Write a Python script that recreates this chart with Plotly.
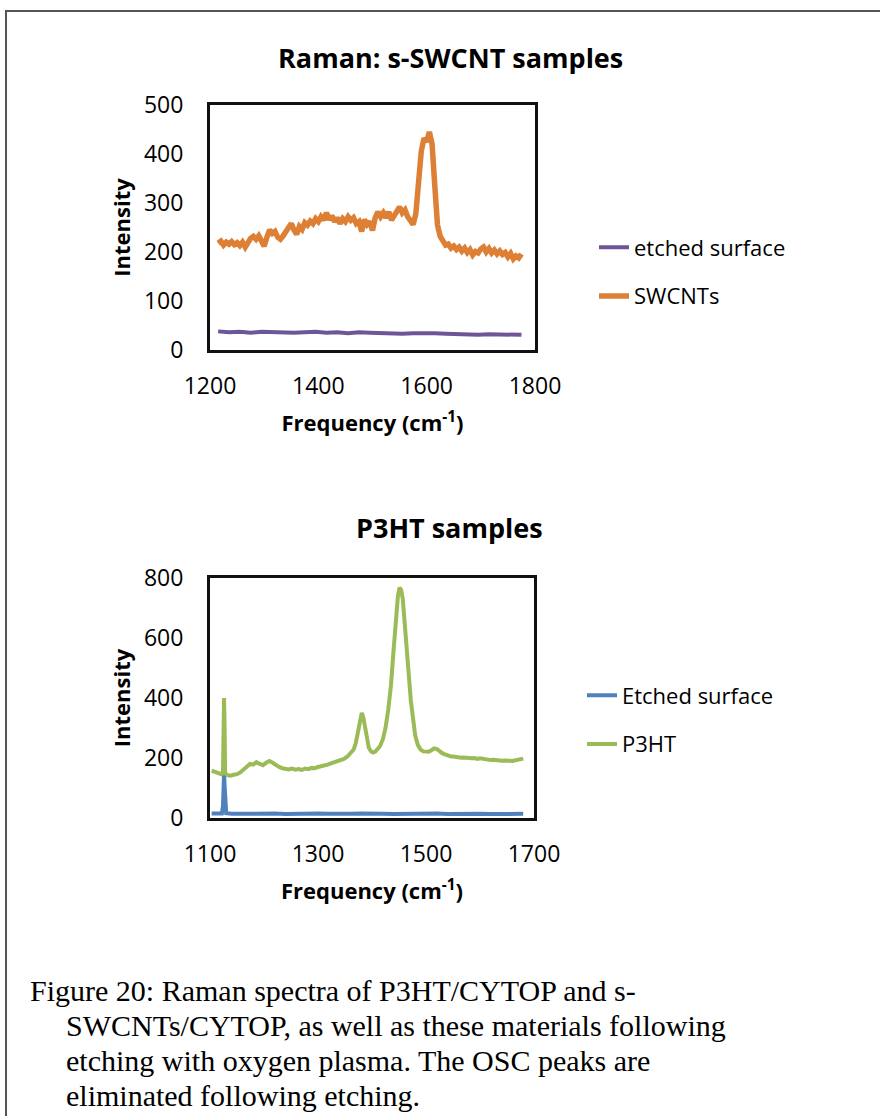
import plotly.graph_objects as go

# ---------------- data: top chart (s-SWCNT) ----------------
swcnt_freq = [1215, 1220, 1225, 1230, 1235, 1240, 1245, 1250, 1255, 1260, 1265, 1270, 1275, 1280, 1285,
              1290, 1295, 1300, 1305, 1310, 1315, 1320, 1325, 1330, 1335, 1340, 1345, 1350, 1355, 1360,
              1365, 1370, 1375, 1380, 1385, 1390, 1395, 1400, 1405, 1410, 1415, 1420, 1425, 1430, 1435,
              1440, 1445, 1450, 1455, 1460, 1465, 1470, 1475, 1480, 1485, 1490, 1495, 1500, 1505, 1510,
              1515, 1520, 1525, 1530, 1535, 1540, 1545, 1550, 1555, 1560, 1565, 1570, 1575, 1580, 1585,
              1590, 1595, 1600, 1605, 1610, 1615, 1620, 1625, 1630, 1635, 1640, 1645, 1650, 1655, 1660,
              1665, 1670, 1675, 1680, 1685, 1690, 1695, 1700, 1705, 1710, 1715, 1720, 1725, 1730, 1735,
              1740, 1745, 1750, 1755, 1760, 1765, 1770, 1775]
swcnt_int = [218, 222, 214, 220, 216, 221, 215, 219, 213, 220, 210, 222, 228, 232, 226,
             233, 222, 212, 230, 245, 238, 242, 230, 226, 233, 240, 251, 258, 245, 236,
             252, 246, 260, 255, 263, 258, 268, 262, 272, 265, 280, 266, 274, 262, 270,
             258, 268, 262, 272, 265, 270, 258, 262, 242, 266, 256, 262, 244, 270, 282,
             272, 280, 270, 282, 265, 276, 285, 292, 280, 286, 272, 266, 256, 278, 335,
             405, 432, 425, 445, 420, 335, 255, 232, 222, 214, 216, 208, 212, 205, 210,
             202, 208, 199, 205, 194, 201, 198, 206, 210, 200, 207, 198, 204, 196, 202,
             195, 199, 190, 197, 186, 192, 188, 196]

etched1_freq = [1215, 1235, 1255, 1275, 1295, 1315, 1335, 1355, 1375, 1395, 1415, 1435, 1455, 1475, 1495,
                1515, 1535, 1555, 1575, 1595, 1615, 1635, 1655, 1675, 1695, 1715, 1735, 1755, 1775]
etched1_int = [38, 36, 37, 35, 37, 36, 37, 35, 36, 37, 35, 36, 34, 36, 35,
               34, 35, 33, 34, 35, 34, 33, 32, 33, 31, 32, 31, 32, 31]

# ---------------- data: bottom chart (P3HT) ----------------
p3ht_freq = [1103, 1110, 1116, 1121, 1124, 1125, 1126, 1127, 1128, 1132, 1138, 1144, 1150, 1156, 1162,
             1168, 1174, 1180, 1186, 1192, 1198, 1204, 1210, 1216, 1222, 1228, 1234, 1240, 1246, 1252,
             1258, 1264, 1270, 1276, 1282, 1288, 1294, 1300, 1306, 1312, 1318, 1324, 1330, 1336, 1342,
             1348, 1354, 1360, 1366, 1370, 1374, 1378, 1381, 1384, 1387, 1390, 1394, 1398, 1402, 1406,
             1410, 1415, 1420, 1425, 1430, 1435, 1440, 1444, 1448, 1451, 1454, 1457, 1460, 1464, 1468,
             1472, 1476, 1480, 1485, 1490, 1495, 1500, 1505, 1510, 1515, 1520, 1525, 1530, 1535, 1540,
             1545, 1550, 1555, 1560, 1565, 1570, 1575, 1580, 1585, 1590, 1595, 1600, 1605, 1610, 1615,
             1620, 1625, 1630, 1635, 1640, 1645, 1650, 1655, 1660, 1665, 1670, 1675, 1680]
p3ht_int = [158, 152, 148, 146, 150, 300, 400, 310, 150, 143, 141, 144, 146, 152, 160,
            172, 180, 178, 186, 180, 176, 184, 190, 184, 176, 170, 166, 164, 162, 165,
            161, 163, 160, 165, 163, 167, 166, 170, 172, 176, 178, 182, 186, 188, 192,
            197, 204, 214, 228, 250, 290, 335, 350, 335, 300, 265, 235, 222, 218, 221,
            228, 240, 262, 300, 360, 440, 560, 660, 740, 768, 760, 730, 670, 580, 480,
            390, 320, 275, 243, 228, 222, 220, 221, 226, 232, 230, 222, 216, 212, 208,
            206, 205, 203, 204, 201, 202, 200, 201, 199, 200, 197, 199, 197, 195, 196,
            193, 194, 192, 193, 191, 192, 190, 191, 190, 192, 193, 196, 198]

etched2_freq = [1103, 1110, 1118, 1122, 1124, 1125, 1126, 1127, 1128, 1130, 1140, 1160, 1180, 1200, 1220,
                1240, 1260, 1280, 1300, 1320, 1340, 1360, 1380, 1400, 1420, 1440, 1460, 1480, 1500, 1520,
                1540, 1560, 1580, 1600, 1620, 1640, 1660, 1680]
etched2_int = [15, 14, 16, 15, 40, 120, 145, 110, 30, 16, 14, 15, 13, 14, 15,
               13, 14, 16, 15, 14, 13, 14, 15, 13, 14, 13, 14, 13, 14, 15,
               13, 14, 13, 14, 13, 14, 15, 14]

top_xticks = [1200, 1400, 1600, 1800]
top_yticks = [0, 100, 200, 300, 400, 500]
bottom_xticks = [1100, 1300, 1500, 1700]
bottom_yticks = [0, 200, 400, 600, 800]

# ---------------- figure ----------------
W, H = 880, 1116
TICK_FONT = dict(family="Open Sans", size=23, color="black")
TITLE_FONT = dict(family="Open Sans", size=22, color="black")

fig = go.Figure()

fig.add_trace(go.Scatter(x=etched1_freq, y=etched1_int, mode="lines", name="etched surface",
                         line=dict(color="#6E5696", width=4), xaxis="x", yaxis="y",
                         legend="legend", legendgroup="a"))
fig.add_trace(go.Scatter(x=swcnt_freq, y=swcnt_int, mode="lines", name="SWCNTs",
                         line=dict(color="#DD8036", width=5.5), xaxis="x", yaxis="y",
                         legend="legend", legendgroup="b"))
fig.add_trace(go.Scatter(x=etched2_freq, y=etched2_int, mode="lines", name="Etched surface",
                         line=dict(color="#4F81BD", width=4), xaxis="x2", yaxis="y2",
                         legend="legend2", legendgroup="c"))
fig.add_trace(go.Scatter(x=p3ht_freq, y=p3ht_int, mode="lines", name="P3HT",
                         line=dict(color="#9BBB59", width=4), xaxis="x2", yaxis="y2",
                         legend="legend2", legendgroup="d"))


def px_x(p):
    return p / W


def px_y(p):
    return 1 - p / H


axis_common = dict(showline=True, mirror=True, linecolor="#111111", linewidth=3,
                   showgrid=False, zeroline=False, ticks="", tickfont=TICK_FONT,
                   automargin=False)

fig.update_layout(
    width=W, height=H,
    margin=dict(l=0, r=0, t=0, b=0),
    paper_bgcolor="white", plot_bgcolor="white",
    xaxis=dict(domain=[px_x(210), px_x(535)], range=[1200, 1800], tickmode="array",
               tickvals=top_xticks, anchor="y", ticklabelstandoff=13,
               title=dict(text="<b>Frequency (cm<sup>-1</sup>)</b>", font=TITLE_FONT, standoff=17),
               **axis_common),
    yaxis=dict(domain=[px_y(350), px_y(105)], range=[0, 500], tickmode="array",
               tickvals=top_yticks, anchor="x", ticklabelstandoff=19,
               title=dict(text="<b>Intensity</b>", font=TITLE_FONT, standoff=8),
               **axis_common),
    xaxis2=dict(domain=[px_x(210), px_x(534)], range=[1100, 1700], tickmode="array",
                tickvals=bottom_xticks, anchor="y2", ticklabelstandoff=13,
                title=dict(text="<b>Frequency (cm<sup>-1</sup>)</b>", font=TITLE_FONT, standoff=17),
                **axis_common),
    yaxis2=dict(domain=[px_y(818), px_y(578)], range=[0, 800], tickmode="array",
                tickvals=bottom_yticks, anchor="x2", ticklabelstandoff=19,
                title=dict(text="<b>Intensity</b>", font=TITLE_FONT, standoff=8),
                **axis_common),
    legend=dict(x=px_x(594), y=px_y(272), xanchor="left", yanchor="middle",
                font=dict(family="Open Sans", size=22, color="black"),
                bgcolor="rgba(0,0,0,0)", traceorder="grouped", tracegroupgap=17),
    legend2=dict(x=px_x(582), y=px_y(720), xanchor="left", yanchor="middle",
                 font=dict(family="Open Sans", size=22, color="black"),
                 bgcolor="rgba(0,0,0,0)", traceorder="grouped", tracegroupgap=17),
    showlegend=True,
)

# chart titles
fig.add_annotation(text="<b>Raman: s-SWCNT samples</b>", x=px_x(450), y=px_y(58),
                   xref="paper", yref="paper", showarrow=False, xanchor="center", yanchor="middle",
                   font=dict(family="Open Sans", size=27, color="black"))
fig.add_annotation(text="<b>P3HT samples</b>", x=px_x(449), y=px_y(527),
                   xref="paper", yref="paper", showarrow=False, xanchor="center", yanchor="middle",
                   font=dict(family="Open Sans", size=27, color="black"))

# caption
caption_lines = [
    ("Figure 20: Raman spectra of P3HT/CYTOP and s-", 28, 990),
    ("SWCNTs/CYTOP, as well as these materials following", 64, 1025),
    ("etching with oxygen plasma. The OSC peaks are", 64, 1060),
    ("eliminated following etching.", 64, 1095),
]
for txt, cx, cy in caption_lines:
    fig.add_annotation(text=txt, x=px_x(cx), y=px_y(cy), xref="paper", yref="paper",
                       showarrow=False, xanchor="left", yanchor="middle",
                       font=dict(family="Liberation Serif", size=30, color="black"))

# outer frame
fig.add_shape(type="rect", xref="paper", yref="paper", x0=px_x(6), x1=1.05, y0=-0.05, y1=px_y(11),
              line=dict(color="#555555", width=2), fillcolor="rgba(0,0,0,0)")

fig.write_html("out.html")
